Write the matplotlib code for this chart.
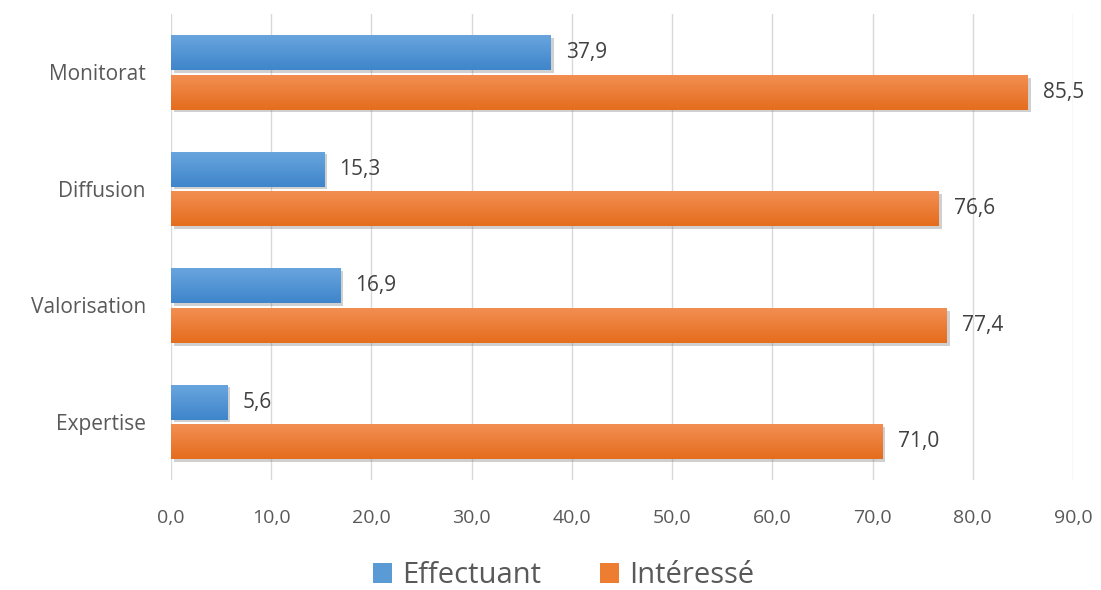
import numpy as np
import matplotlib.pyplot as plt
import matplotlib.patheffects as pe
from matplotlib.colors import LinearSegmentedColormap
from matplotlib.patches import Patch

categories = ["Expertise", "Valorisation", "Diffusion", "Monitorat"]
effectuant = [5.6, 16.9, 15.3, 37.9]
interesse = [71.0, 77.4, 76.6, 85.5]
series_names = ["Effectuant", "Intéressé"]

plt.rcParams['font.family'] = ['Open Sans', 'DejaVu Sans']
txt = "#595959"

fig = plt.figure(figsize=(11.01, 5.90), dpi=100)
ax = fig.add_axes([0.1553, 0.186, 0.8193, 0.790])

y = np.arange(len(categories))
h = 0.30
off = 0.17

blue_cm = LinearSegmentedColormap.from_list("b", ["#3f85cb", "#68a5de"])
orange_cm = LinearSegmentedColormap.from_list("o", ["#e56d1d", "#f28e52"])
grad = np.linspace(0, 1, 64).reshape(-1, 1)


def draw(vals, ypos, color, cmap):
    bars = ax.barh(ypos, vals, height=h, color=color, zorder=3,
                   path_effects=[pe.SimplePatchShadow(offset=(2, -2), alpha=0.3, shadow_rgbFace="#666666"),
                                 pe.Normal()])
    for b, v in zip(bars, vals):
        y0 = b.get_y()
        # vertical gradient, lighter on top
        im = ax.imshow(grad, cmap=cmap, aspect='auto', zorder=4,
                       extent=[0, v, y0 + h, y0], interpolation='bilinear')
        im.set_clip_path(b)
        ax.text(v + 1.5, y0 + h / 2, f"{v:.1f}".replace(".", ","),
                va='center', ha='left', fontsize=15, color="#404040", zorder=5)
    return bars


draw(effectuant, y + off, "#5b9bd5", blue_cm)
draw(interesse, y - off, "#ed7d31", orange_cm)

ax.set_xlim(0, 90)
ax.set_ylim(-0.5, len(categories) - 0.5)
ax.set_xticks(np.arange(0, 91, 10))
ax.set_xticklabels([f"{v:.1f}".replace(".", ",") for v in np.arange(0, 91, 10)])
ax.set_yticks(y)
ax.set_yticklabels(categories)
ax.tick_params(axis='x', length=0, labelsize=14, colors=txt, pad=21)
ax.tick_params(axis='y', length=0, labelsize=15, colors=txt, pad=18)
ax.grid(axis='x', color="#d9d9d9", linewidth=1, zorder=0)
for s in ax.spines.values():
    s.set_visible(False)

handles = [Patch(facecolor="#5b9bd5"), Patch(facecolor="#ed7d31")]
fig.legend(handles, series_names, loc='lower center', ncol=2, frameon=False,
           fontsize=21, labelcolor=txt, handlelength=0.65, handleheight=0.65,
           handletextpad=0.35, columnspacing=2.0, bbox_to_anchor=(0.512, -0.045))

fig.savefig("out.png", dpi=100)
